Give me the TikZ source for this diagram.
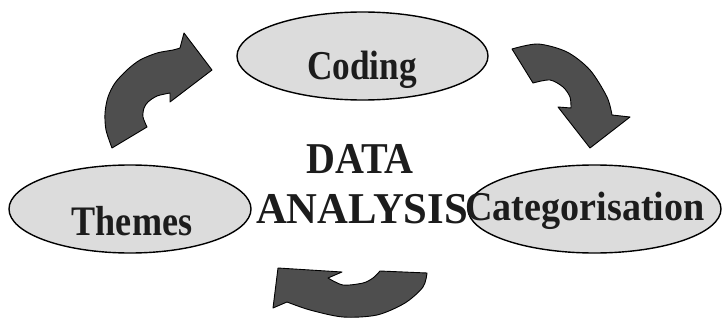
\documentclass[tikz,border=0pt]{standalone}
\usepackage{fontspec}
\usepackage{graphicx}
\setmainfont{Liberation Serif}
\definecolor{bubblefill}{HTML}{DCDCDC}
\definecolor{arrowfill}{HTML}{4E4E4E}
\definecolor{inkcol}{HTML}{1C1C1C}
\tikzset{
  bubble/.style={ellipse, draw=black, line width=1.4pt, fill=bubblefill, inner sep=0pt},
  lbl/.style={anchor=base, inner sep=0pt, text=inkcol, font=\bfseries},
  blockarrow/.style={fill=arrowfill, draw=black, line width=0.9pt, line join=round}
}
\usetikzlibrary{shapes.geometric}
\begin{document}
\begin{tikzpicture}[x=1pt,y=-1pt]
\useasboundingbox (0,0) rectangle (723,321);
% ellipses
\node[bubble, minimum width=251pt, minimum height=88pt] (coding) at (362.5,56) {};
\node[bubble, minimum width=242pt, minimum height=88pt] (themes) at (130,209) {};
\node[bubble, minimum width=253pt, minimum height=88pt] (categ) at (594.5,209) {};
% labels
\node[lbl, font=\bfseries\fontsize{41}{41}\selectfont] (codingtxt) at (362,80) {\scalebox{0.86}[1]{Coding}};
\node[lbl, font=\bfseries\fontsize{42}{42}\selectfont] (themestxt) at (132,235) {\scalebox{0.86}[1]{Themes}};
\node[lbl, font=\bfseries\fontsize{41}{41}\selectfont] (categtxt) at (585,220) {\scalebox{0.93}[1]{Categorisation}};
\node[lbl, font=\bfseries\fontsize{44}{44}\selectfont] (datatxt) at (360,173) {\scalebox{0.91}[1]{DATA}};
\node[lbl, font=\bfseries\fontsize{44}{44}\selectfont] (analysistxt) at (362,223) {\scalebox{0.97}[1]{ANALYSIS}};
% top-left curved arrow (Themes -> Coding)
\draw[blockarrow] (112,148) -- plot[smooth] coordinates {(112,148) (106,130) (105,113) (108,97) (115,83) (127,70) (140,60) (157,53) (173,50) (180,48)}
  -- (184,33) -- (212,70) -- (170,102)
  -- plot[smooth] coordinates {(170,93) (157,96) (148,102) (144,108) (143,117) (147,127)} -- cycle;
% top-right curved arrow (Coding -> Categorisation)
\draw[blockarrow] (512,49) -- plot[smooth] coordinates {(512,49) (538,44) (567,52) (590,70) (607,97) (612,115)}
  -- (630,117) -- (590,148) -- (558,107)
  -- plot[smooth] coordinates {(571,108) (570,97) (563,87) (550,80) (533,83)} -- cycle;
% bottom curved arrow (Categorisation -> Themes)
\draw[blockarrow] (278,268) -- (342,272) -- (328,278)
  -- plot[smooth] coordinates {(328,278) (343,285) (363,283) (373,278) (380,271)}
  -- (427,273)
  -- plot[smooth] coordinates {(427,273) (423,287) (405,303) (377,315) (343,317) (310,310) (287,302)}
  -- (273,308) -- cycle;
\end{tikzpicture}
\end{document}
